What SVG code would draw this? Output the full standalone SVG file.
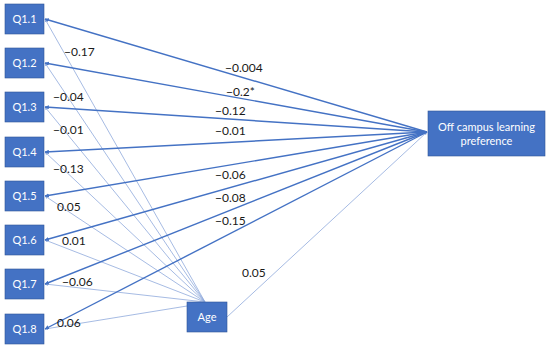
<svg xmlns="http://www.w3.org/2000/svg" width="550" height="349" viewBox="0 0 550 349">
<style>
.box{fill:#4472C4;stroke:#2F5597;stroke-width:0.6}
.bt{font-family:Lato,"Liberation Sans",sans-serif;font-size:11px;fill:#fff;text-anchor:middle}
.lb{font-family:Lato,"Liberation Sans",sans-serif;font-size:12px;fill:#1a1a1a}
.dk{stroke:#4472C4;stroke-width:1.4;fill:none;marker-end:url(#ah)}
.lt{stroke:#8FAADC;stroke-width:0.8;fill:none;marker-end:url(#al)}
</style>
<defs>
<marker id="ah" viewBox="0 0 6 6" refX="5.5" refY="3" markerWidth="3" markerHeight="3" orient="auto"><path d="M0,0L6,3L0,6z" fill="#4472C4"/></marker>
<marker id="al" viewBox="0 0 6 6" refX="5.5" refY="3" markerWidth="4" markerHeight="4" orient="auto"><path d="M0,0L6,3L0,6z" fill="#8FAADC"/></marker>
</defs>
<rect width="550" height="349" fill="#fff"/>
<g id="connectors">
<path class="lt" d="M205,302L45,19"/>
<path class="lt" d="M205,302L45,63"/>
<path class="lt" d="M205,302L45,107"/>
<path class="lt" d="M205,302L45,152"/>
<path class="lt" d="M205,302L45,196"/>
<path class="lt" d="M205,302L45,240"/>
<path class="lt" d="M205,302L45,284"/>
<path class="lt" d="M187,306L45,329"/>
<path class="lt" d="M227,317L427,132"/>
<path class="dk" d="M427,132L45,19"/>
<path class="dk" d="M427,132L45,63"/>
<path class="dk" d="M427,132L45,107"/>
<path class="dk" d="M427,132L45,152"/>
<path class="dk" d="M427,132L45,196"/>
<path class="dk" d="M427,132L45,240"/>
<path class="dk" d="M427,132L45,284"/>
<path class="dk" d="M427,132L45,329"/>
</g>
<g id="labels">
<text class="lb" x="64" y="56">−0.17</text>
<text class="lb" x="53" y="101">−0.04</text>
<text class="lb" x="53" y="134">−0.01</text>
<text class="lb" x="53" y="173">−0.13</text>
<text class="lb" x="57" y="211">0.05</text>
<text class="lb" x="62" y="245">0.01</text>
<text class="lb" x="62" y="286">−0.06</text>
<text class="lb" x="57" y="327">0.06</text>
<text class="lb" x="225" y="72">−0.004</text>
<text class="lb" x="226" y="96">−0.2*</text>
<text class="lb" x="215" y="115">−0.12</text>
<text class="lb" x="215" y="135">−0.01</text>
<text class="lb" x="215" y="179">−0.06</text>
<text class="lb" x="215" y="202">−0.08</text>
<text class="lb" x="215" y="225">−0.15</text>
<text class="lb" x="242" y="277">0.05</text>
</g>
<g id="q11"><rect class="box" x="5" y="4" width="39" height="30"/><text class="bt" x="24.5" y="23">Q1.1</text></g>
<g id="q12"><rect class="box" x="5" y="48" width="39" height="30"/><text class="bt" x="24.5" y="67">Q1.2</text></g>
<g id="q13"><rect class="box" x="5" y="92" width="39" height="30"/><text class="bt" x="24.5" y="111">Q1.3</text></g>
<g id="q14"><rect class="box" x="5" y="137" width="39" height="30"/><text class="bt" x="24.5" y="156">Q1.4</text></g>
<g id="q15"><rect class="box" x="5" y="181" width="39" height="30"/><text class="bt" x="24.5" y="200">Q1.5</text></g>
<g id="q16"><rect class="box" x="5" y="225" width="39" height="30"/><text class="bt" x="24.5" y="244">Q1.6</text></g>
<g id="q17"><rect class="box" x="5" y="269" width="39" height="30"/><text class="bt" x="24.5" y="288">Q1.7</text></g>
<g id="q18"><rect class="box" x="5" y="314" width="39" height="30"/><text class="bt" x="24.5" y="333">Q1.8</text></g>
<g id="age"><rect class="box" x="187" y="302" width="40" height="30"/><text class="bt" x="207" y="321">Age</text></g>
<g id="offcampus"><rect class="box" x="428" y="111" width="117" height="45"/><text class="bt" x="486.5" y="131">Off campus learning</text><text class="bt" x="486.5" y="145">preference</text></g>
</svg>
